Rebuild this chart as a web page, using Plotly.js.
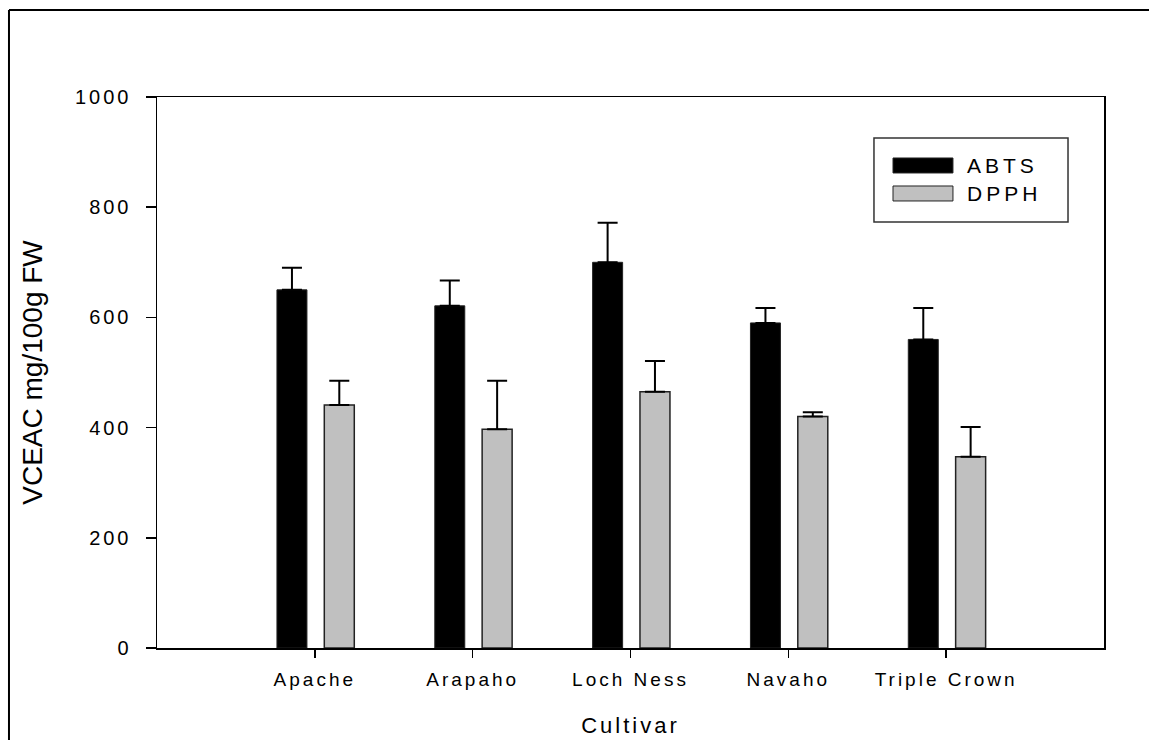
<!DOCTYPE html>
<html>
<head>
<meta charset="utf-8">
<script src="https://cdn.plot.ly/plotly-3.0.1.min.js"></script>
<style>
  html, body { margin: 0; padding: 0; background: #fff; overflow: hidden; }
  #chart { width: 1149px; height: 740px; overflow: hidden; }
  #chart .xtick text, #chart .ytick text { letter-spacing: 3px; }
  #chart .g-xtitle text { letter-spacing: 3px; }
  #chart .annotation-text { letter-spacing: 4px; }
</style>
</head>
<body>
<div id="chart"></div>
<script>
// Cultivars and antioxidant capacity (VCEAC mg/100g FW)
const cultivars = ["Apache", "Arapaho", "Loch Ness", "Navaho", "Triple Crown"];
const abtsValues = [650, 621, 700, 590, 560];
const abtsErrors = [40, 46, 72, 27, 57];
const dpphValues = [441, 397, 465, 420, 347];
const dpphErrors = [44, 88, 56, 8, 54];
const seriesNames = ["ABTS", "DPPH"];
const yTicks = [0, 200, 400, 600, 800, 1000];

const FONT = "Arial, 'Liberation Sans', sans-serif";
const catIdx = cultivars.map((_, i) => i);
const zeros = n => new Array(n).fill(0);

const traces = [
  {
    type: "bar", name: seriesNames[0], x: catIdx, y: abtsValues,
    width: 0.19, offset: -0.24,
    marker: { color: "#000000", line: { color: "#222222", width: 1 } },
    error_y: { type: "data", symmetric: false, array: abtsErrors, arrayminus: zeros(abtsErrors.length),
               color: "#000000", thickness: 2, width: 10 },
    showlegend: false, hoverinfo: "y"
  },
  {
    type: "bar", name: seriesNames[1], x: catIdx, y: dpphValues,
    width: 0.19, offset: 0.06,
    marker: { color: "#c0c0c0", line: { color: "#222222", width: 1.5 } },
    error_y: { type: "data", symmetric: false, array: dpphErrors, arrayminus: zeros(dpphErrors.length),
               color: "#000000", thickness: 2, width: 10 },
    showlegend: false, hoverinfo: "y"
  }
];

// Hand-drawn legend box with long swatches
const legendShapes = [
  { type: "rect", xref: "paper", yref: "paper", x0: 0.7571, x1: 0.9620, y0: 0.7731, y1: 0.9256,
    line: { color: "#333333", width: 1.5 }, fillcolor: "rgba(0,0,0,0)" },
  { type: "rect", xref: "paper", yref: "paper", x0: 0.7772, x1: 0.8405, y0: 0.8621, y1: 0.8893,
    line: { color: "#222222", width: 1 }, fillcolor: "#000000" },
  { type: "rect", xref: "paper", yref: "paper", x0: 0.7772, x1: 0.8405, y0: 0.8113, y1: 0.8385,
    line: { color: "#222222", width: 1 }, fillcolor: "#c0c0c0" }
];
const legendText = [
  { xref: "paper", yref: "paper", x: 0.8617, y: 0.8757, xanchor: "left", yanchor: "middle",
    text: traces[0].name, showarrow: false, font: { family: FONT, size: 21, color: "#000" } },
  { xref: "paper", yref: "paper", x: 0.8617, y: 0.8249, xanchor: "left", yanchor: "middle",
    text: traces[1].name, showarrow: false, font: { family: FONT, size: 21, color: "#000" } }
];

// Outer figure frame: top and left edges, running to the page edges
const frameLines = [
  { type: "line", xref: "paper", yref: "paper", x0: -0.1563, x1: 1.0486, y0: 1.158, y1: 1.158,
    line: { color: "#000000", width: 2 }, layer: "below" },
  { type: "line", xref: "paper", yref: "paper", x0: -0.1563, x1: -0.1563, y0: -0.1688, y1: 1.158,
    line: { color: "#000000", width: 2 }, layer: "below" }
];

const layout = {
  width: 1149, height: 740,
  margin: { l: 157, r: 45, t: 97, b: 92, pad: 0 },
  paper_bgcolor: "#ffffff", plot_bgcolor: "#ffffff",
  font: { family: FONT, color: "#000000" },
  barmode: "overlay",
  xaxis: {
    range: [-1, 5], tickmode: "array", tickvals: catIdx, ticktext: cultivars,
    ticks: "outside", ticklen: 8, tickwidth: 1.5, tickcolor: "#000",
    showline: true, linecolor: "#000", linewidth: 1.5, mirror: true,
    showgrid: false, zeroline: false, ticklabelstandoff: 6,
    tickfont: { family: FONT, size: 19, color: "#000" },
    title: { text: "Cultivar", font: { family: FONT, size: 22, color: "#000" }, standoff: 28 }
  },
  yaxis: {
    range: [0, 1000], tickmode: "array", tickvals: yTicks, ticktext: yTicks.map(String),
    ticks: "outside", ticklen: 10, tickwidth: 1.5, tickcolor: "#000",
    showline: true, linecolor: "#000", linewidth: 1.5, mirror: true,
    showgrid: false, zeroline: false, ticklabelstandoff: 10,
    tickfont: { family: FONT, size: 20, color: "#000" },
    title: { text: "VCEAC mg/100g FW", font: { family: FONT, size: 28, color: "#000" }, standoff: 36 }
  },
  shapes: frameLines.concat(legendShapes),
  annotations: legendText,
  showlegend: false
};

Plotly.newPlot("chart", traces, layout, { displayModeBar: false, staticPlot: true });
</script>
</body>
</html>
